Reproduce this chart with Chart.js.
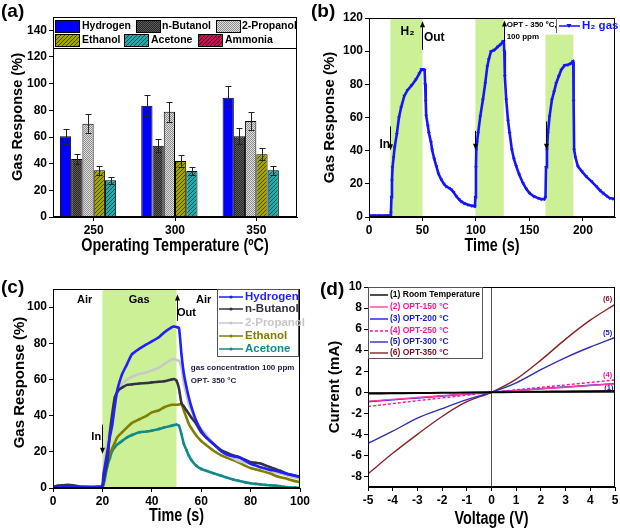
<!DOCTYPE html>
<html><head><meta charset="utf-8">
<script src="https://cdn.jsdelivr.net/npm/chart.js@4.4.1/dist/chart.umd.min.js"></script>
<style>
html,body{margin:0;padding:0;background:#fff}
body{width:620px;height:528px;position:relative;overflow:hidden}
.p{position:absolute;width:310px;height:264px}
canvas{display:block}
</style></head><body>
<div class="p" style="left:0;top:0"><canvas id="ca" width="310" height="264"></canvas></div>
<div class="p" style="left:310px;top:0"><canvas id="cb" width="310" height="264"></canvas></div>
<div class="p" style="left:0;top:264px"><canvas id="cc" width="310" height="264"></canvas></div>
<div class="p" style="left:310px;top:264px"><canvas id="cd" width="310" height="264"></canvas></div>
<script>
// ---------- (a) data ----------
const tempCategories = ['250','300','350'];
const gasNamesA = ['Hydrogen','n-Butanol','2-Propanol','Ethanol','Acetone','Ammonia'];
const hydrogenResp = [60.5, 83.5, 89.5];
const butanolResp  = [43.5, 53.5, 60.5];
const propanolResp = [70, 79, 72];
const ethanolResp  = [35, 42, 47];
const acetoneResp  = [27.5, 34.5, 35];
const ammoniaResp  = [null, null, null];
const hydrogenErr = [5.5, 8, 8.5];
const butanolErr  = [4, 5, 6];
const propanolErr = [7, 7.5, 7];
const ethanolErr  = [3.5, 4.5, 4.5];
const acetoneErr  = [2.5, 3, 3.5];
const ammoniaErr  = [0, 0, 0];
const yTicksA = [0,20,40,60,80,100,120,140];

// ---------- (b) data ----------
const timeB = [0,5,10,15,19,20,20.5,21,21.5,22,23,24,26,28,30,33,36,40,44,47,49,50,51,52,52.5,53,53.5,55,56,58,59,61,63,65,67.6,70,72,75,77,79,81.6,84,86,89,92.5,96,99,99.5,100,100.3,101,102,104,106.5,108.7,110.6,112,114,117.4,120.6,123,125.2,126,126.5,127,128.3,130,131.5,133.6,135.5,137.7,140.5,143.9,147,150,154,158,161,164,165,165.5,166.4,167.3,168.8,171,173,175,177.5,179.8,183,186,188.5,190.7,191,191.3,191.8,193,195.3,199,203,208,212.5,216,218.7,222,225,228,230];
const h2RespB = [0.8,0.8,0.8,0.8,0.9,1,2.5,12,22,30,36,42,50,60,66,73,76.5,79.5,83,86.5,89,89,89,88.5,80,70,61,55,50.6,45,40.5,35,30.5,26,22.5,20,18.5,17.5,16.5,15,12.5,10.8,9.4,8.3,7.4,6.8,6.4,12,30,40.5,45,50.6,60.5,70.7,80.7,90.8,95,99.8,100.8,102.8,104,105.8,106,100,85,70.7,58,50.6,40.5,35,30.5,25.5,20.5,17,14.5,12.5,11.4,10.8,10.8,12,30,40.5,50.6,60.5,70.7,75.5,80.7,85,88.8,91.5,91.8,92.5,93.8,93,70,40.5,36,30.5,27.5,24.5,21.5,18.5,16,14.5,12.8,11.4,11,11];
const yTicksB = [0,20,40,60,80,100,120];
const xTicksB = [0,50,100,150,200];
const gasOnB  = [20, 99.5, 165];
const gasOffB = [50, 126, 191];
const shadeTopB = [null, null, 110];

// ---------- (c) data ----------
const timeC = [0,2,4,6,8,10,12,14,16,18,
  19.5,20,20.5,21,
  22,23,24,25,26,27,28,
  30,32,35,38,40,43,45,48,49,50,51,52,
  53,54,55,56,58,60,62,65,68,70,
  73,75,78,80,82,84,86,88,90,92,
  95,98,100];
const hydrogenC = [0.5,0.8,0.7,0.6,0.6,0.5,0.5,0.5,0.5,0.6,
  0.7,1,8,12,
  20,28,35,45,54,59,63,
  68.5,74,77,79.5,81,83.5,86,88.8,89.3,89,88.5,74,
  63,56,50,45,37,31.7,28,24.3,20.5,18.8,
  17.5,17,15,13.3,12.5,11.5,10.8,10,9.6,8.8,
  7.7,6.8,6];
const butanolC = [0.8,1.2,1.5,1.7,1.5,1,0.6,0.5,0.5,0.5,
  0.6,1,4,8,
  15,30,41,50,53,54.7,55.5,
  57,57.3,57.8,58,58.4,58.7,59,60,60.2,59.3,55,47,
  45,43,41,39,35.4,30.8,28,24.3,21,19.7,
  18,17.3,15.5,14.2,14,13.6,12.5,11.5,10.5,9.5,
  7.7,6.8,6.4];
const propanolC = [0.5,0.5,0.5,0.5,0.5,0.5,0.5,0.5,0.5,0.5,
  0.6,1,8,15,
  25,34,42,48,52,55,57.5,
  60,61.5,63,64,65,66.5,68.5,71,71.3,70.7,70.3,66.7,
  57.5,52,46.4,43,37,32.6,29.5,24.3,20.5,18.4,
  16.5,15,14,13.3,12.3,11.3,10.2,9.5,8.7,8,
  6.8,5.8,5];
const ethanolC = [0.5,0.5,0.5,0.5,0.5,0.5,0.5,0.5,0.5,0.5,
  0.6,0.8,3,8,
  15,19,22,25,28,29.5,30.8,
  33.5,36,38,40,41.8,43,44.6,46,46,46,46.2,46.4,
  42.7,39,35.4,33,29,26,23.8,20.6,18.2,17,
  15.4,14.2,12.2,11,10.3,9.6,8.9,8,6.8,6,
  5,3.8,3.1];
const acetoneC = [0.5,1.2,1.5,1.3,1,0.6,0.5,0.5,0.4,0.5,
  0.5,0.6,2,5,
  12,16.5,20.6,22.5,24,25,26,
  28,29.3,30.8,31.2,31.7,32.6,33.5,34.4,34.8,35,34.4,29.8,
  24.3,21,17.9,15.5,12.3,10.5,9.5,8.1,6.8,5.9,
  4.7,4,3.1,2.6,2.3,2,1.7,1.5,1.3,1,
  0.4,0.2,0];
const gasNamesC = ['Hydrogen','n-Butanol','2-Propanol','Ethanol','Acetone'];
const yTicksC = [0,20,40,60,80,100];
const xTicksC = [0,20,40,60,80,100];
const gasOnC = [20], gasOffC = [50], shadeTopC = [null];

// ---------- (d) data ----------
const voltageD = [-5,-4,-3,-2,-1,0,1,2,3,4,5];
const ivRoom = [-0.12,-0.1,-0.08,-0.05,-0.03,0,0.03,0.05,0.08,0.1,0.12];
const iv150  = [-0.85,-0.68,-0.5,-0.33,-0.17,0,0.16,0.32,0.48,0.64,0.8];
const iv200  = [-0.9,-0.72,-0.54,-0.36,-0.18,0,0.17,0.34,0.5,0.66,0.82];
const iv250  = [-1.35,-1.08,-0.8,-0.54,-0.27,0,0.24,0.47,0.7,0.93,1.17];
const iv300  = [-4.85,-3.7,-2.45,-1.55,-0.7,0,0.9,2.15,3.3,4.3,5.2];
const iv350  = [-7.75,-5.8,-4.0,-2.3,-0.9,0,1.25,3.05,5.05,6.85,8.35];
const ivNames = ['(1) Room Temperature','(2) OPT-150 °C','(3) OPT-200 °C','(4) OPT-250 °C','(5) OPT-300 °C','(6) OPT-350 °C'];
const yTicksD = [-8,-6,-4,-2,0,2,4,6,8,10];
const xTicksD = [-5,-4,-3,-2,-1,0,1,2,3,4,5];

// ---------- helpers ----------
const SANS = "'Liberation Sans', Arial, sans-serif";
Chart.defaults.font.family = SANS;
Chart.defaults.color = '#000';
Chart.defaults.animation = false;

function axis(o){
  const c = {
    type: o.type || 'linear',
    offset: !!o.offset,
    afterFit(s){ s.paddingLeft=0; s.paddingRight=0; s.paddingTop=0; s.paddingBottom=0;
      if(o.w!=null) s.width=o.w; if(o.h!=null) s.height=o.h; },
    ticks:{font:{size:12,weight:'bold'},padding:o.tp!=null?o.tp:2,color:'#000',maxRotation:0,autoSkip:false},
    grid:{drawOnChartArea:!!o.zero,drawTicks:true,tickLength:4,tickColor:'#000',offset:false,
      color: o.zero ? (ctx)=> (ctx.tick && ctx.tick.value===0 ? '#555' : 'rgba(0,0,0,0)') : '#000', lineWidth:1},
    border:{display:true,color:'#000',width:1},
    title:{display:false}
  };
  if(o.min!=null) c.min=o.min;
  if(o.max!=null) c.max=o.max;
  if(o.ticksList) c.afterBuildTicks = (s)=>{ s.ticks = o.ticksList.map(v=>({value:v})); };
  return c;
}

function deco(cfg){
  return {
    id:'deco',
    beforeDatasetsDraw(c){
      const s=cfg.shade; if(!s) return;
      const {ctx,chartArea:a}=c, x=c.scales.x, y=c.scales.y;
      ctx.save(); ctx.fillStyle=s.color;
      s.starts.forEach((x0,i)=>{
        const p0=x.getPixelForValue(x0), p1=x.getPixelForValue(s.ends[i]);
        const py = s.tops[i]==null ? a.top : y.getPixelForValue(s.tops[i]);
        ctx.fillRect(p0,py,p1-p0,a.bottom-py);
      });
      ctx.restore();
    },
    afterDatasetsDraw(c){
      const {ctx}=c, x=c.scales.x, y=c.scales.y;
      ctx.save();
      if(cfg.errors){
        c.data.datasets.forEach((ds,i)=>{
          const e=cfg.errors[i]; if(!e) return;
          c.getDatasetMeta(i).data.forEach((bar,j)=>{
            const v=ds.data[j]; if(v==null || !e[j]) return;
            const yt=Math.round(y.getPixelForValue(v+e[j]))+.5, yb=Math.round(y.getPixelForValue(v-e[j]))+.5, bx=Math.round(bar.x)+.5;
            ctx.strokeStyle='#222'; ctx.lineWidth=1; ctx.beginPath();
            ctx.moveTo(bx,yt); ctx.lineTo(bx,yb);
            ctx.moveTo(bx-3,yt); ctx.lineTo(bx+3,yt);
            ctx.moveTo(bx-3,yb); ctx.lineTo(bx+3,yb);
            ctx.stroke();
          });
        });
      }
      (cfg.arrows||[]).forEach(([ax,y0,y1])=>{
        const px=Math.round(x.getPixelForValue(ax))+.5, p0=y.getPixelForValue(y0), p1=y.getPixelForValue(y1);
        const d=Math.sign(p1-p0);
        ctx.strokeStyle='#000'; ctx.fillStyle='#000'; ctx.lineWidth=1;
        ctx.beginPath(); ctx.moveTo(px,p0); ctx.lineTo(px,p1-d*5); ctx.stroke();
        ctx.beginPath(); ctx.moveTo(px,p1); ctx.lineTo(px-2.5,p1-d*6); ctx.lineTo(px+2.5,p1-d*6); ctx.closePath(); ctx.fill();
      });
      (cfg.notes||[]).forEach(n=>{
        ctx.font=`bold ${n.size}px ${SANS}`; ctx.fillStyle=n.color||'#000';
        ctx.textAlign=n.align||'center'; ctx.textBaseline='middle';
        ctx.fillText(n.text, x.getPixelForValue(n.x), y.getPixelForValue(n.y));
      });
      ctx.restore();
    },
    afterDraw(c){
      const {ctx,chartArea:a}=c;
      ctx.save();
      ctx.strokeStyle='#000'; ctx.lineWidth=1;
      ctx.strokeRect(Math.round(a.left)+.5, Math.round(a.top)+.5, Math.round(a.right-a.left)-1, Math.round(a.bottom-a.top)-1);
      if(cfg.legend) cfg.legend(ctx,c);
      // axis titles
      ctx.fillStyle='#000'; ctx.textAlign='center'; ctx.textBaseline='middle';
      const tx=cfg.xTitle, ty=cfg.yTitle;
      ctx.save(); ctx.translate((a.left+a.right)/2, tx.pos); ctx.scale(tx.sx,1);
      ctx.font=`bold ${tx.size}px ${SANS}`; ctx.fillText(tx.text,0,0); ctx.restore();
      ctx.save(); ctx.translate(ty.pos, (a.top+a.bottom)/2 + (ty.dy||0)); ctx.rotate(-Math.PI/2); ctx.scale(ty.sx,1);
      ctx.font=`bold ${ty.size}px ${SANS}`; ctx.fillText(ty.text,0,0); ctx.restore();
      ctx.font=`bold 19px ${SANS}`; ctx.textAlign='left'; ctx.textBaseline='top';
      ctx.fillText(cfg.panel[0], cfg.panel[1], cfg.panel[2]);
      ctx.restore();
    }
  };
}

function pattern(bg, fg, kind){
  const cv=document.createElement('canvas');
  const n = kind==='diag' ? 4 : 2;
  cv.width=cv.height=n;
  const g=cv.getContext('2d');
  g.fillStyle=bg; g.fillRect(0,0,n,n); g.fillStyle=fg;
  if(kind==='check'){ g.fillRect(0,0,1,1); g.fillRect(1,1,1,1); }
  else { for(let i=0;i<4;i++) g.fillRect(i,3-i,1,1); }
  return g.createPattern(cv,'repeat');
}

// ---------- (a) ----------
const fillsA = ['#0000ff', pattern('#262626','#5e5e5e','check'), pattern('#e0e0e0','#8c8c8c','check'),
  pattern('#a3a300','#4a4a00','diag'), pattern('#22a8a8','#0c5858','diag'), pattern('#c4104e','#5a0024','diag')];
const respA = [hydrogenResp,butanolResp,propanolResp,ethanolResp,acetoneResp,ammoniaResp];
const errA  = [hydrogenErr,butanolErr,propanolErr,ethanolErr,acetoneErr,ammoniaErr];

new Chart(document.getElementById('ca'),{
  type:'bar',
  data:{labels:tempCategories, datasets:gasNamesA.map((n,i)=>({label:n,data:respA[i],backgroundColor:fillsA[i],borderColor:'#000',borderWidth:1,barPercentage:1,categoryPercentage:0.83}))},
  options:{responsive:false,animation:false,
    layout:{padding:{left:0,right:13,top:17,bottom:0}},
    plugins:{legend:{display:false},tooltip:{enabled:false}},
    scales:{
      x:axis({type:'category',offset:true,h:47}),
      y:axis({min:0,max:150,w:53,ticksList:yTicksA})
    }},
  plugins:[deco({panel:['(a)',1,2],errors:errA,
    xTitle:{text:'Operating Temperature (ºC)',size:18,sx:0.8,pos:246},
    yTitle:{text:'Gas Response (%)',size:14.6,sx:1,pos:18},
    legend(ctx,c){
    const a=c.chartArea;
    ctx.beginPath(); ctx.moveTo(a.left,48.5); ctx.lineTo(a.right,48.5); ctx.stroke();
    const pos=[[55,20,82],[136,20,162],[216,20,242],[55,34,82],[124,34,151],[198,34,225]];
    c.data.datasets.forEach((ds,i)=>{
      const [sx,sy,tx]=pos[i];
      ctx.fillStyle=ds.backgroundColor; ctx.fillRect(sx,sy,24,12);
      ctx.strokeStyle='#000'; ctx.strokeRect(sx+.5,sy+.5,24,12);
      ctx.fillStyle='#000'; ctx.font=`bold 10.5px ${SANS}`; ctx.textAlign='left'; ctx.textBaseline='middle';
      ctx.fillText(ds.label,tx,sy+6.5);
    });
  }})]
});

// ---------- (b) ----------
const blue = '#1414ff';
new Chart(document.getElementById('cb'),{
  type:'line',
  data:{datasets:[{label:'H₂ gas',data:timeB.map((t,i)=>({x:t,y:h2RespB[i]})),borderColor:blue,backgroundColor:blue,borderWidth:2.6,
    pointStyle:'triangle',rotation:180,pointRadius:2.2,pointBorderWidth:0,tension:0}]},
  options:{responsive:false,animation:false,
    layout:{padding:{left:0,right:5,top:18,bottom:0}},
    plugins:{legend:{display:false},tooltip:{enabled:false}},
    scales:{
      x:axis({min:0,max:230,h:47,ticksList:xTicksB}),
      y:axis({min:0,max:120,w:59,ticksList:yTicksB})
    }},
  plugins:[deco({panel:['(b)',1,2],
    xTitle:{text:'Time (s)',size:18,sx:0.8,pos:246},
    yTitle:{text:'Gas Response (%)',size:15,sx:1,pos:20},
    shade:{color:'#ccf096',starts:gasOnB,ends:gasOffB,tops:shadeTopB},
    arrows:[[50,100.8,118],[20,54.6,40.2],[99,52,40.5],[165.6,57.6,40.5],[126.2,105.8,118.5]],
    notes:[{text:'H₂',x:36,y:112,size:12},{text:'Out',x:61,y:108,size:12},{text:'In',x:14.7,y:43.6,size:12},
      {text:'OPT - 350 ºC,',x:128.7,y:115.9,size:8,align:'left'},{text:'100 ppm',x:128.7,y:108.4,size:8,align:'left'}],
    legend(ctx,c){
      const a=c.chartArea;
      ctx.strokeStyle='#666'; ctx.lineWidth=1;
      ctx.beginPath(); ctx.moveTo(246.5,a.top); ctx.lineTo(246.5,33); ctx.stroke();
      ctx.strokeStyle=blue; ctx.lineWidth=1.5;
      ctx.beginPath(); ctx.moveTo(249,26); ctx.lineTo(270,26); ctx.stroke();
      ctx.fillStyle=blue; ctx.beginPath(); ctx.moveTo(256.5,24); ctx.lineTo(261.5,24); ctx.lineTo(259,28); ctx.closePath(); ctx.fill();
      ctx.font=`bold 11.5px ${SANS}`; ctx.textAlign='left'; ctx.textBaseline='middle';
      ctx.fillText(c.data.datasets[0].label,272,26);
    }})]
});

// ---------- (c) ----------
const colorsC = ['#1f1fff','#333340','#c8c8c8','#7f7f00','#138a8a'];
const seriesC = [hydrogenC,butanolC,propanolC,ethanolC,acetoneC];
const markC = ['triangle','rect','triangle','triangle','circle'];
const rotC = [180,0,0,180,0];
new Chart(document.getElementById('cc'),{
  type:'line',
  data:{datasets:gasNamesC.map((n,i)=>({label:n,data:timeC.map((t,k)=>({x:t,y:seriesC[i][k]})),borderColor:colorsC[i],backgroundColor:colorsC[i],
    borderWidth:2.6,pointStyle:markC[i],rotation:rotC[i],pointRadius:1.4,pointBorderWidth:0,tension:0.2}))},
  options:{responsive:false,animation:false,
    layout:{padding:{left:0,right:10,top:25,bottom:0}},
    plugins:{legend:{display:false},tooltip:{enabled:false}},
    scales:{
      x:axis({min:0,max:100,h:40,ticksList:xTicksC}),
      y:axis({min:0,max:110,w:53,ticksList:yTicksC})
    }},
  plugins:[deco({panel:['(c)',1,14],
    xTitle:{text:'Time (s)',size:18,sx:0.8,pos:252},
    yTitle:{text:'Gas Response (%)',size:15,sx:1,pos:20,dy:-6},
    shade:{color:'#ccf096',starts:gasOnC,ends:gasOffC,tops:shadeTopC},
    arrows:[[50,92.4,107],[20,35,19]],
    notes:[{text:'Air',x:12.8,y:104,size:11},{text:'Gas',x:34.9,y:104,size:11},{text:'Air',x:61,y:104,size:11},
      {text:'Out',x:54,y:97,size:11},{text:'In',x:17.5,y:28,size:11},
      {text:'gas concentration 100 ppm',x:55.8,y:66.3,size:8,align:'left',color:'#1a1a40'},
      {text:'OPT- 350 °C',x:55.8,y:59,size:8,align:'left',color:'#1a1a40'}],
    legend(ctx,c){
      ctx.fillStyle='#fff'; ctx.fillRect(218,26,80,66);
      ctx.strokeStyle='#555'; ctx.lineWidth=1; ctx.strokeRect(217.5,25.5,81,67);
      const ys=[33,45,59,72,85];
      c.data.datasets.forEach((ds,i)=>{
        ctx.strokeStyle=ds.borderColor; ctx.lineWidth=1.5;
        ctx.beginPath(); ctx.moveTo(219,ys[i]); ctx.lineTo(243,ys[i]); ctx.stroke();
        ctx.fillStyle=ds.borderColor; ctx.beginPath(); ctx.arc(231,ys[i],1.6,0,Math.PI*2); ctx.fill();
        ctx.font=`bold 11.5px ${SANS}`; ctx.textAlign='left'; ctx.textBaseline='middle';
        ctx.fillText(ds.label,245,ys[i]);
      });
    }})]
});

// ---------- (d) ----------
const seriesD = [ivRoom,iv150,iv200,iv250,iv300,iv350];
const lineColD = ['#000000','#ff3fa0','#1a1aee','#ff1493','#3030b0','#8b2323'];
const textColD = ['#000000','#ff1493','#1515dd','#ff1493','#1a1aaa','#7a1025'];
const dashD = [[],[],[],[3,2],[],[]];
new Chart(document.getElementById('cd'),{
  type:'line',
  data:{datasets:ivNames.map((n,i)=>({label:n,data:voltageD.map((v,k)=>({x:v,y:seriesD[i][k]})),borderColor:lineColD[i],
    borderWidth:i===0?2:1.4,borderDash:dashD[i],pointRadius:0,cubicInterpolationMode:'monotone'}))},
  options:{responsive:false,animation:false,
    layout:{padding:{left:0,right:5,top:23,bottom:0}},
    plugins:{legend:{display:false},tooltip:{enabled:false}},
    scales:{
      x:axis({min:-5,max:5,h:41,ticksList:xTicksD,zero:true}),
      y:axis({min:-9,max:10,w:58,ticksList:yTicksD,zero:true})
    }},
  plugins:[deco({panel:['(d)',10,16],
    xTitle:{text:'Voltage (V)',size:18,sx:0.8,pos:255},
    yTitle:{text:'Current (mA)',size:15,sx:1,pos:25},
    notes:[{text:'(6)',x:4.7,y:8.9,size:7.5,color:textColD[5]},{text:'(5)',x:4.7,y:5.64,size:7.5,color:textColD[4]},
      {text:'(4)',x:4.7,y:1.63,size:7.5,color:textColD[3]},{text:'(1)',x:4.75,y:0.38,size:7.5,color:textColD[4]}],
    legend(ctx,c){
      ctx.fillStyle='#fff'; ctx.fillRect(59,24,113,70);
      ctx.strokeStyle='#555'; ctx.lineWidth=1; ctx.strokeRect(58.5,23.5,114,71);
      const ys=[31,43,55,67,78,89];
      c.data.datasets.forEach((ds,i)=>{
        ctx.strokeStyle=ds.borderColor; ctx.lineWidth=1.4; ctx.setLineDash(dashD[i]);
        ctx.beginPath(); ctx.moveTo(60,ys[i]); ctx.lineTo(78,ys[i]); ctx.stroke(); ctx.setLineDash([]);
        ctx.fillStyle=textColD[i]; ctx.font=`bold 8.5px ${SANS}`; ctx.textAlign='left'; ctx.textBaseline='middle';
        ctx.fillText(ds.label,80,ys[i]);
      });
    }})]
});
</script>
</body></html>
